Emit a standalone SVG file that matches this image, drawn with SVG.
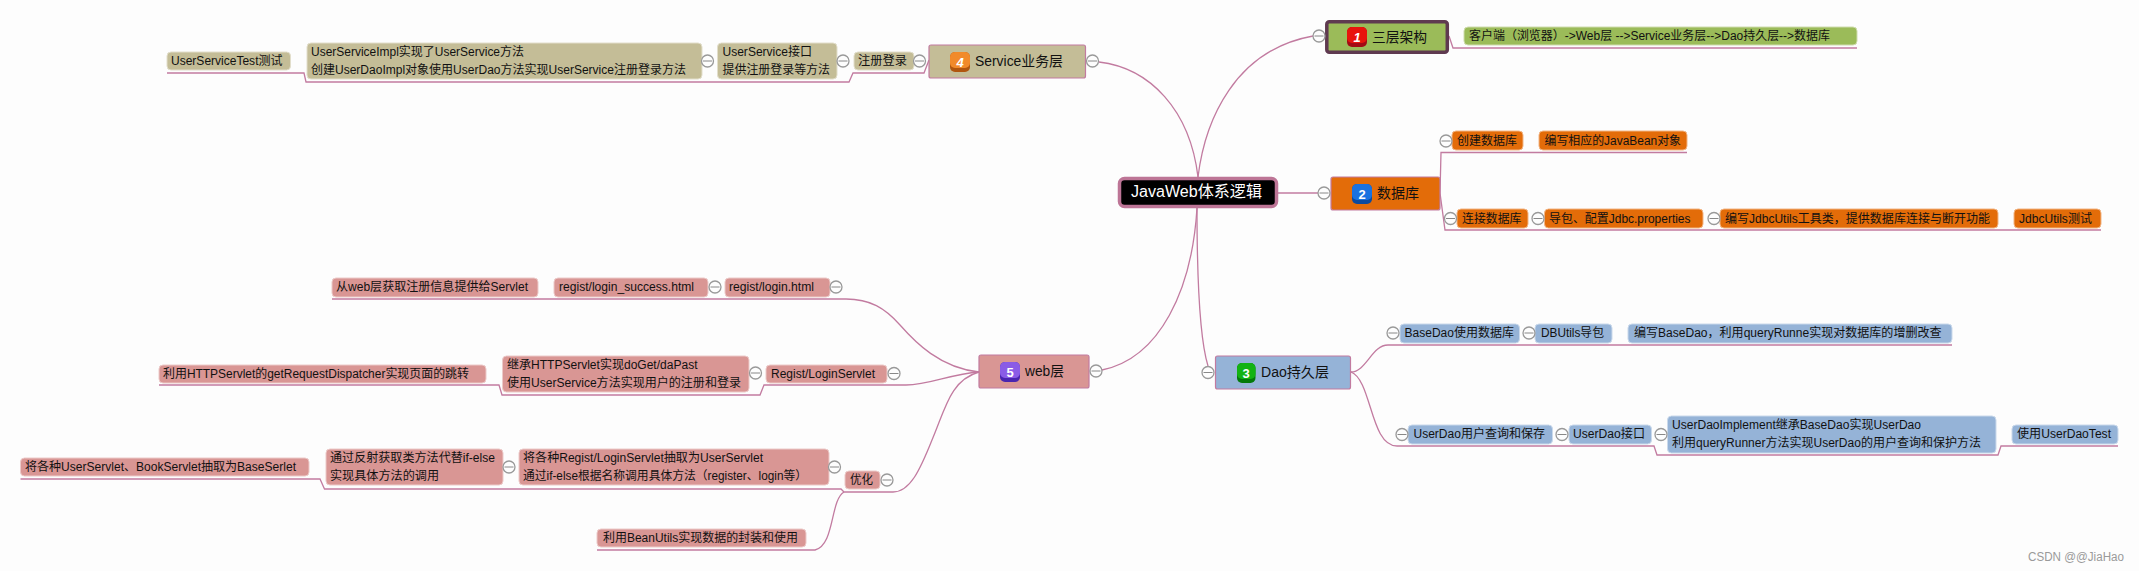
<svg xmlns="http://www.w3.org/2000/svg" width="2139" height="571" viewBox="0 0 2139 571">
<style>
text{font-family:"Liberation Sans","Noto Sans CJK SC",sans-serif;font-size:12px;fill:#111}
.t{font-size:14px}
.n{font-size:13px;font-weight:bold;fill:#fff;text-anchor:middle}
.c path,.lines path{fill:none;stroke:#c27ba0;stroke-width:1.3}
.g{fill:#9bbb59;stroke:#cfdcae}.o{fill:#e36c09;stroke:#f2b585}.b{fill:#95b3d7;stroke:#cad9eb}.k{fill:#c4bd97;stroke:#e2decb}.p{fill:#d99694;stroke:#eccac9}
.g1,.o1,.b1,.k1,.p1{stroke:#c27ba0;stroke-width:1.2}
.g1{fill:#9bbb59;stroke:#5f3a50;stroke-width:3.5}.o1{fill:#e36c09}.b1{fill:#95b3d7}.k1{fill:#c4bd97}.p1{fill:#d99694}
.x circle{fill:#fdfdfd;stroke:#999;stroke-width:1.3}.x path{stroke:#888;stroke-width:1;fill:none}
</style>
<defs>
<g id="m" class="x"><circle r="6"/><path d="M-4.5 0H4.5"/></g>
</defs>
<rect width="2139" height="571" fill="#fdfdfd"/>
<g id="connectors" class="c">
<path d="M1198 177C1205 120 1235 50 1313 36"/>
<path d="M1198 177C1190 110 1150 68 1099 62"/>
<path d="M1278 193H1318"/>
<path d="M1197 208C1197 280 1200 340 1208 366"/>
<path d="M1197 208C1192 290 1160 358 1102 370"/>
<path d="M1449 36L1453 48H1857"/>
<path d="M1440 193L1441 152.500H1687"/>
<path d="M1440 193L1445 230H2101"/>
<path d="M1351 372C1366 372 1372 345 1388 345H1952"/>
<path d="M1351 372C1372 380 1370 446 1397 446H1654L1657 455H1998L2001 446H2118"/>
<path d="M929 60L924 73H853L849 82H306L304 73H167"/>
<path d="M979 372C940 368 915 342 900 325C885 308 870 299 846 299H332"/>
<path d="M979 372C950 374 930 385 906 385H764L760 395H502L499 385H159"/>
<path d="M979 372C950 380 945 410 932 440C920 470 910 492 893 492H844L841 489H324.500L320 479H20.500"/>
<path d="M844 492C830 500 835 545 815 550H597"/>
</g>
<g id="root"><rect x="1119.500" y="178.500" width="157" height="28" rx="5" fill="#000" stroke="#bd7596" stroke-width="3.500"/><text x="1131" y="197" style="font-size:16px;fill:#fff" textLength="131" lengthAdjust="spacingAndGlyphs">JavaWeb体系逻辑</text></g>

<g id="n1"><rect class="g1" x="1326.800" y="21.800" width="120.500" height="30.500" rx="2.500"/><rect x="1347" y="27" width="20" height="20" rx="5" fill="#a30a14"/><rect x="1347" y="27" width="20" height="16" rx="5" fill="#e8140c"/><text class="n" x="1357" y="42" font-style="italic">1</text><text class="t" x="1372" y="42" textLength="55" lengthAdjust="spacingAndGlyphs">三层架构</text><use href="#m" x="1319" y="36"/></g>
<g id="n1a"><rect class="g" x="1464" y="27" width="393" height="18" rx="4"/><text x="1469" y="40" textLength="361" lengthAdjust="spacingAndGlyphs">客户端（浏览器）-&gt;Web层 --&gt;Service业务层--&gt;Dao持久层--&gt;数据库</text></g>

<g id="n2"><rect class="o1" x="1331" y="177" width="109" height="33" rx="2"/><rect x="1352" y="184" width="20" height="20" rx="5" fill="#0b4a9e"/><rect x="1352" y="184" width="20" height="16" rx="5" fill="#1a72e0"/><text class="n" x="1362" y="199">2</text><text class="t" x="1377" y="198" textLength="42" lengthAdjust="spacingAndGlyphs">数据库</text><use href="#m" x="1324" y="193"/></g>
<g id="n2a"><rect class="o" x="1452" y="131" width="71" height="19" rx="4"/><text x="1457" y="145" textLength="60" lengthAdjust="spacingAndGlyphs">创建数据库</text><use href="#m" x="1446" y="141"/></g>
<g id="n2b"><rect class="o" x="1539" y="131" width="148" height="19" rx="4"/><text x="1544.500" y="145" textLength="136.500" lengthAdjust="spacingAndGlyphs">编写相应的JavaBean对象</text></g>
<g id="n2c"><rect class="o" x="1457" y="209" width="71" height="19" rx="4"/><text x="1462" y="223" textLength="59.500" lengthAdjust="spacingAndGlyphs">连接数据库</text><use href="#m" x="1450.500" y="218.500"/></g>
<g id="n2d"><rect class="o" x="1544.500" y="209" width="158.500" height="19" rx="4"/><text x="1549" y="223" textLength="141.500" lengthAdjust="spacingAndGlyphs">导包、配置Jdbc.properties</text><use href="#m" x="1538" y="218.500"/></g>
<g id="n2e"><rect class="o" x="1720" y="209" width="278" height="19" rx="4"/><text x="1725" y="223" textLength="265" lengthAdjust="spacingAndGlyphs">编写JdbcUtils工具类，提供数据库连接与断开功能</text><use href="#m" x="1714" y="218.500"/></g>
<g id="n2f"><rect class="o" x="2014" y="209" width="87" height="19" rx="4"/><text x="2019" y="223" textLength="73" lengthAdjust="spacingAndGlyphs">JdbcUtils测试</text></g>

<g id="n3"><rect class="b1" x="1215.500" y="356" width="135" height="33" rx="2"/><rect x="1237" y="363" width="18.500" height="20" rx="5" fill="#047a0a"/><rect x="1237" y="363" width="18.500" height="16" rx="5" fill="#13b313"/><text class="n" x="1246" y="378">3</text><text class="t" x="1261" y="377" textLength="68" lengthAdjust="spacingAndGlyphs">Dao持久层</text><use href="#m" x="1208" y="372.500"/></g>
<g id="n3a"><rect class="b" x="1400" y="324" width="119.500" height="19" rx="4"/><text x="1404.500" y="337" textLength="109.500" lengthAdjust="spacingAndGlyphs">BaseDao使用数据库</text><use href="#m" x="1393" y="333"/></g>
<g id="n3b"><rect class="b" x="1535" y="324" width="77" height="19" rx="4"/><text x="1541" y="337" textLength="63" lengthAdjust="spacingAndGlyphs">DBUtils导包</text><use href="#m" x="1529" y="333"/></g>
<g id="n3c"><rect class="b" x="1628" y="324" width="324" height="19" rx="4"/><text x="1634" y="337" textLength="307.500" lengthAdjust="spacingAndGlyphs">编写BaseDao，利用queryRunne实现对数据库的增删改查</text></g>
<g id="n3d"><rect class="b" x="1408" y="425" width="144.500" height="19" rx="4"/><text x="1413.500" y="438" textLength="131.500" lengthAdjust="spacingAndGlyphs">UserDao用户查询和保存</text><use href="#m" x="1402" y="434.500"/></g>
<g id="n3e"><rect class="b" x="1569" y="425" width="82.500" height="19" rx="4"/><text x="1573" y="438" textLength="72" lengthAdjust="spacingAndGlyphs">UserDao接口</text><use href="#m" x="1562" y="434.500"/></g>
<g id="n3f"><rect class="b" x="1667.500" y="416" width="328.500" height="37" rx="4"/><text x="1672" y="429" textLength="249" lengthAdjust="spacingAndGlyphs">UserDaoImplement继承BaseDao实现UserDao</text><text x="1672" y="447" textLength="309" lengthAdjust="spacingAndGlyphs">利用queryRunner方法实现UserDao的用户查询和保护方法</text><use href="#m" x="1661" y="434.500"/></g>
<g id="n3g"><rect class="b" x="2012" y="425" width="106" height="19" rx="4"/><text x="2017" y="438" textLength="94" lengthAdjust="spacingAndGlyphs">使用UserDaoTest</text></g>

<g id="n4"><rect class="k1" x="929" y="45" width="156.500" height="33" rx="2"/><rect x="950" y="52" width="20" height="20" rx="5" fill="#b0560e"/><rect x="950" y="52" width="20" height="16" rx="5" fill="#f18a2a"/><text class="n" x="960" y="67" font-style="italic">4</text><text class="t" x="975" y="66" textLength="88" lengthAdjust="spacingAndGlyphs">Service业务层</text><use href="#m" x="1092.500" y="61"/></g>
<g id="n4a"><rect class="k" x="854" y="52" width="60" height="18" rx="4"/><text x="858" y="65" textLength="49" lengthAdjust="spacingAndGlyphs">注册登录</text><use href="#m" x="919.500" y="61"/></g>
<g id="n4b"><rect class="k" x="717.500" y="43" width="119.500" height="36" rx="4"/><text x="722.500" y="56" textLength="89.500" lengthAdjust="spacingAndGlyphs">UserService接口</text><text x="722.500" y="74" textLength="107.500" lengthAdjust="spacingAndGlyphs">提供注册登录等方法</text><use href="#m" x="843" y="61"/></g>
<g id="n4c"><rect class="k" x="307" y="43" width="395" height="36" rx="4"/><text x="311" y="56" textLength="213" lengthAdjust="spacingAndGlyphs">UserServiceImpl实现了UserService方法</text><text x="311" y="74" textLength="375" lengthAdjust="spacingAndGlyphs">创建UserDaoImpl对象使用UserDao方法实现UserService注册登录方法</text><use href="#m" x="707.500" y="61"/></g>
<g id="n4d"><rect class="k" x="167" y="52" width="123.500" height="18" rx="4"/><text x="171" y="65" textLength="111.500" lengthAdjust="spacingAndGlyphs">UserServiceTest测试</text></g>

<g id="n5"><rect class="p1" x="979" y="355" width="110" height="33" rx="2"/><rect x="1000" y="362" width="20" height="20" rx="5" fill="#4a25b0"/><rect x="1000" y="362" width="20" height="16" rx="5" fill="#8a5ce6"/><text class="n" x="1010" y="377">5</text><text class="t" x="1025" y="376" textLength="39" lengthAdjust="spacingAndGlyphs">web层</text><use href="#m" x="1096" y="371"/></g>
<g id="n5a"><rect class="p" x="725" y="278" width="105" height="19" rx="4"/><text x="729" y="291" textLength="85" lengthAdjust="spacingAndGlyphs">regist/login.html</text><use href="#m" x="836" y="287"/></g>
<g id="n5b"><rect class="p" x="554" y="278" width="154" height="19" rx="4"/><text x="559" y="291" textLength="135" lengthAdjust="spacingAndGlyphs">regist/login_success.html</text><use href="#m" x="715" y="287"/></g>
<g id="n5c"><rect class="p" x="332" y="278" width="206" height="19" rx="4"/><text x="336" y="291" textLength="192" lengthAdjust="spacingAndGlyphs">从web层获取注册信息提供给Servlet</text></g>
<g id="n5d"><rect class="p" x="766" y="365" width="121" height="18" rx="4"/><text x="771" y="377.500" textLength="104" lengthAdjust="spacingAndGlyphs">Regist/LoginServlet</text><use href="#m" x="894" y="373.500"/></g>
<g id="n5e"><rect class="p" x="502.500" y="356" width="246.500" height="36" rx="4"/><text x="507" y="368.500" textLength="190.500" lengthAdjust="spacingAndGlyphs">继承HTTPServlet实现doGet/daPast</text><text x="507" y="386.500" textLength="234" lengthAdjust="spacingAndGlyphs">使用UserService方法实现用户的注册和登录</text><use href="#m" x="755.500" y="373"/></g>
<g id="n5f"><rect class="p" x="159" y="365" width="327" height="18" rx="4"/><text x="163" y="377.500" textLength="306" lengthAdjust="spacingAndGlyphs">利用HTTPServlet的getRequestDispatcher实现页面的跳转</text></g>
<g id="n5g"><rect class="p" x="845" y="471" width="35" height="18" rx="4"/><text x="850" y="484" textLength="23" lengthAdjust="spacingAndGlyphs">优化</text><use href="#m" x="887" y="480"/></g>
<g id="n5h"><rect class="p" x="519" y="449" width="310" height="36" rx="4"/><text x="523" y="462" textLength="240" lengthAdjust="spacingAndGlyphs">将各种Regist/LoginServlet抽取为UserServlet</text><text x="523" y="480" textLength="284" lengthAdjust="spacingAndGlyphs">通过if-else根据名称调用具体方法（register、login等）</text><use href="#m" x="834.500" y="467"/></g>
<g id="n5i"><rect class="p" x="326" y="449" width="177" height="36" rx="4"/><text x="330" y="462" textLength="165" lengthAdjust="spacingAndGlyphs">通过反射获取类方法代替if-else</text><text x="330" y="480" textLength="109" lengthAdjust="spacingAndGlyphs">实现具体方法的调用</text><use href="#m" x="509" y="467"/></g>
<g id="n5j"><rect class="p" x="20.500" y="458" width="288.500" height="18" rx="4"/><text x="25" y="471" textLength="271" lengthAdjust="spacingAndGlyphs">将各种UserServlet、BookServlet抽取为BaseSerlet</text></g>
<g id="n5k"><rect class="p" x="597" y="529" width="209" height="18" rx="4"/><text x="603" y="542" textLength="195" lengthAdjust="spacingAndGlyphs">利用BeanUtils实现数据的封装和使用</text></g>
<text id="watermark" x="2028" y="561" style="fill:#9a9a9a" textLength="96" lengthAdjust="spacingAndGlyphs">CSDN @@JiaHao</text>
</svg>
